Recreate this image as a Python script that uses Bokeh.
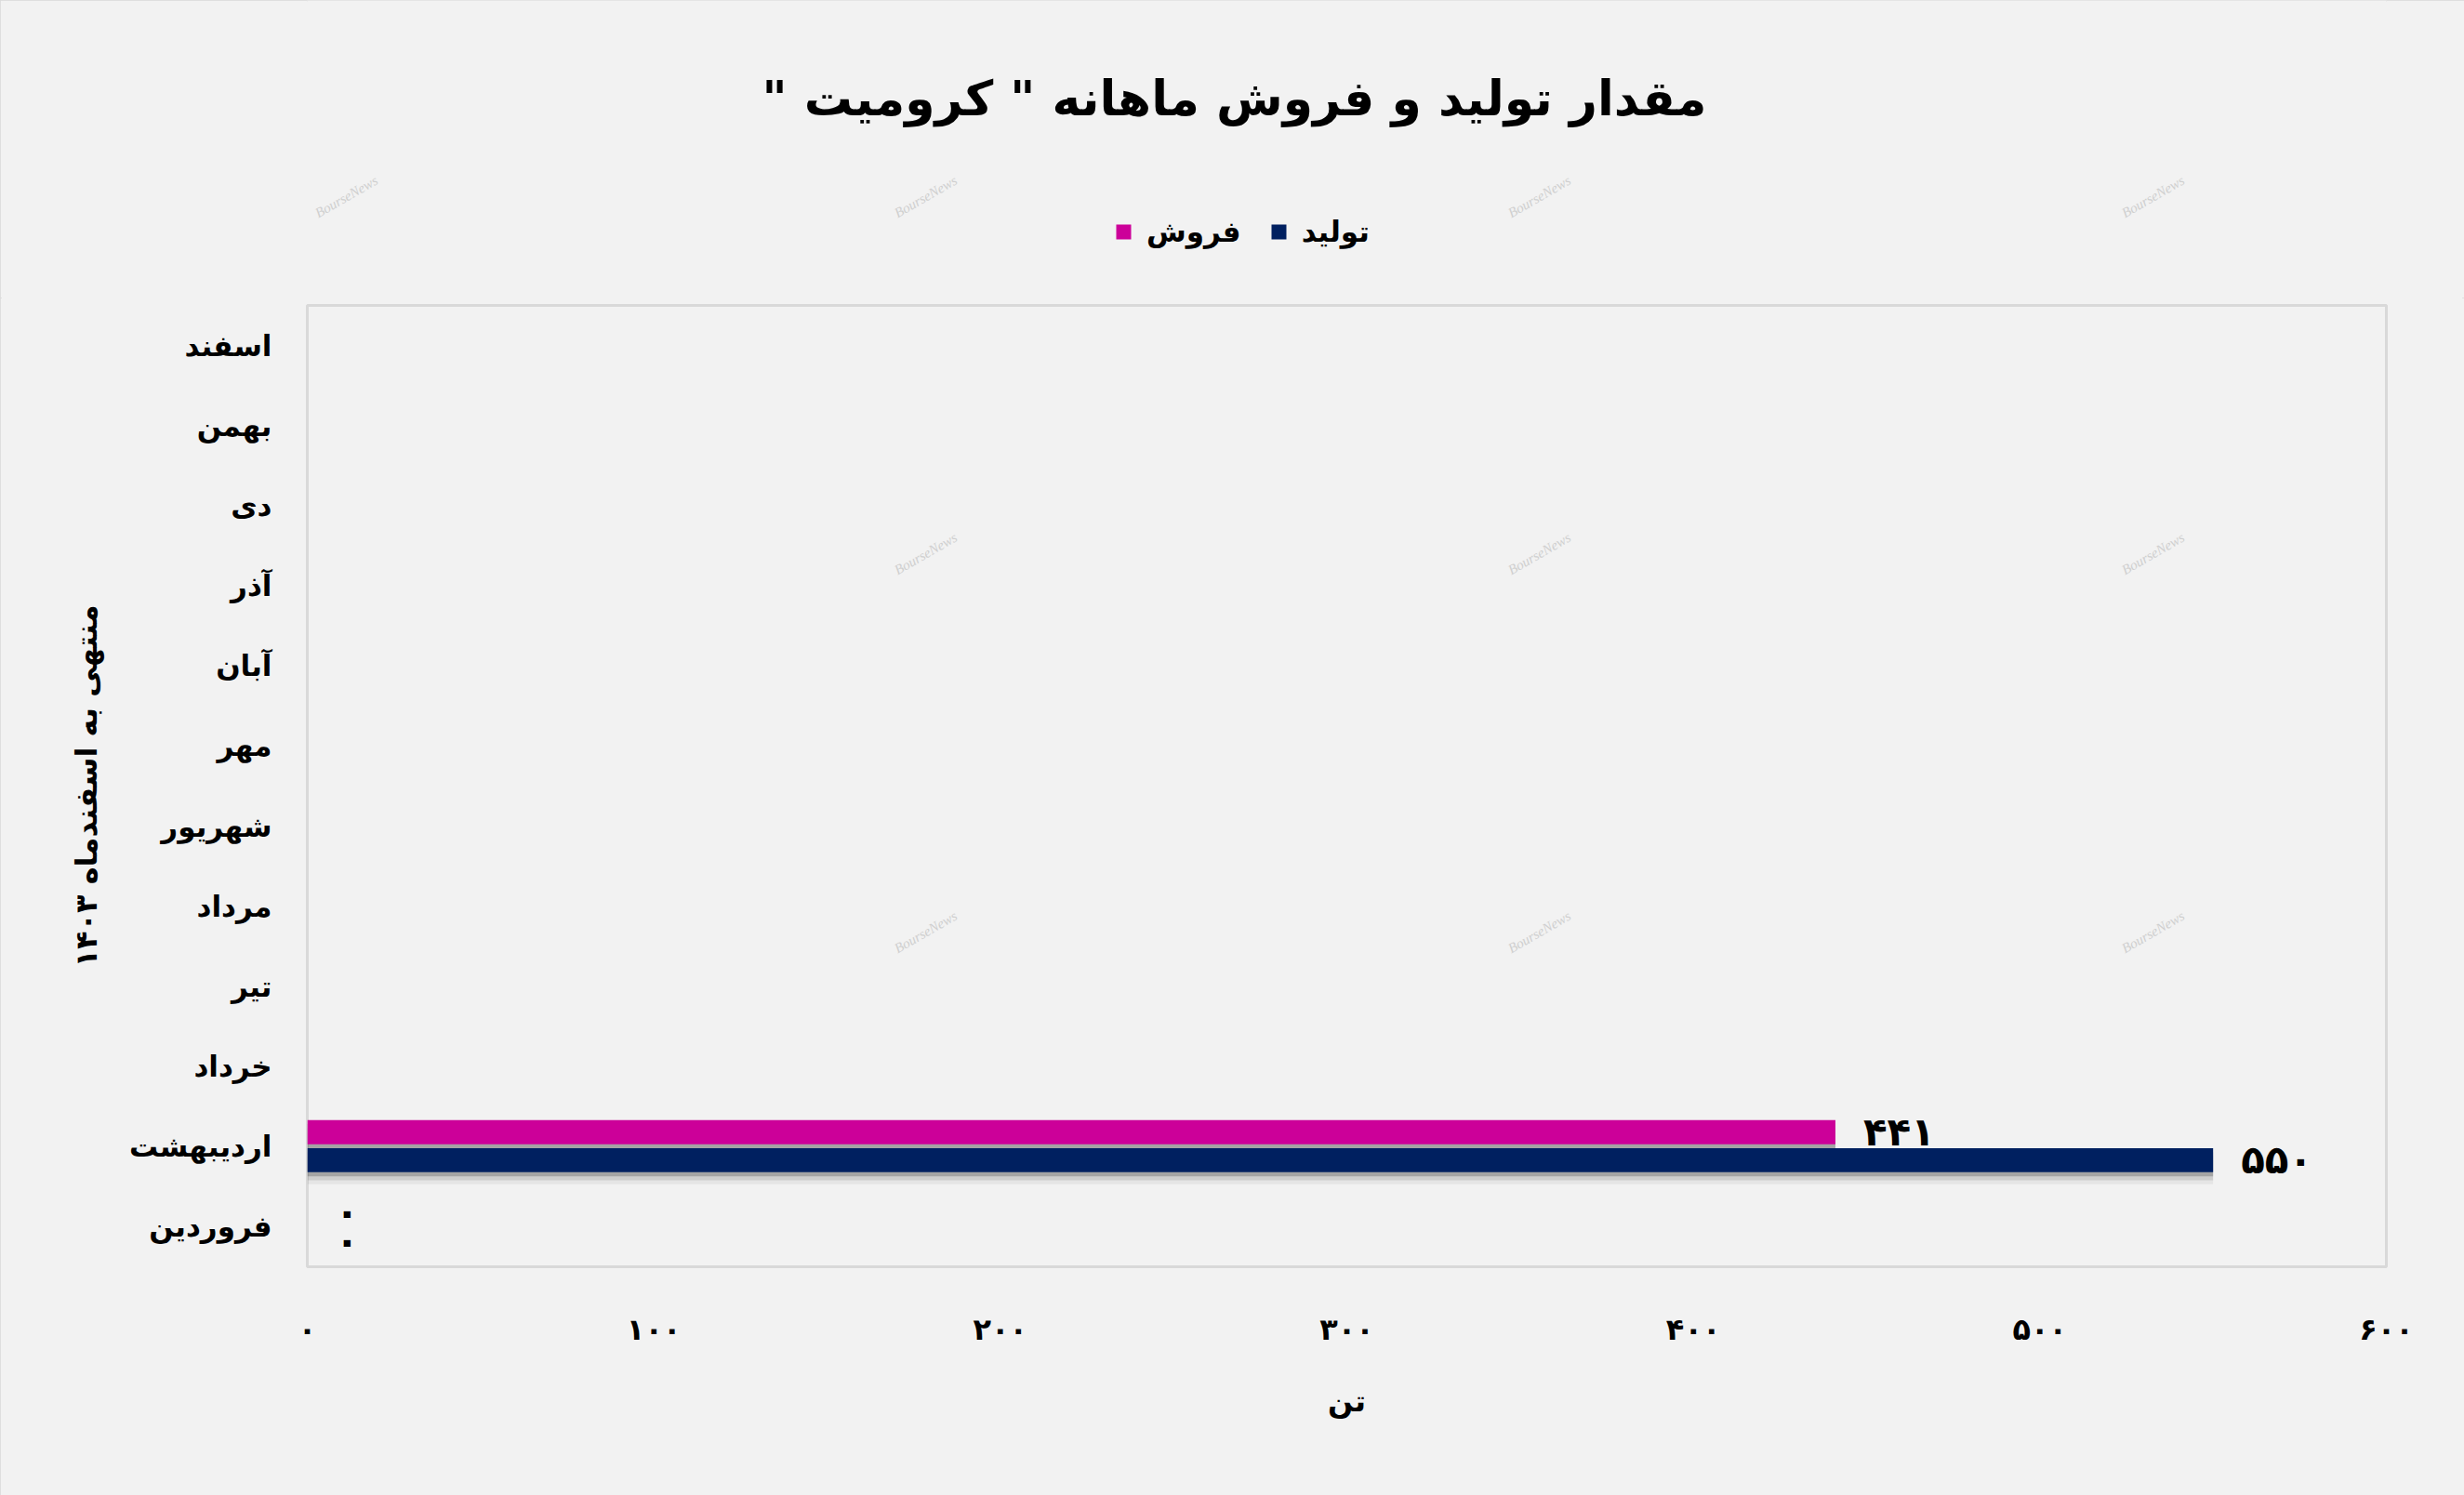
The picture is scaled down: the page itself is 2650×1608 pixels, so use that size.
from bokeh.plotting import figure
from bokeh.layouts import column
from bokeh.models import (Range1d, FactorRange, Legend, LegendItem, Label,
                          ColumnDataSource, FixedTicker)
from bokeh.transform import dodge
from bokeh.core.properties import value
from bokeh.embed import file_html
from bokeh.resources import INLINE

# ---------------- data ----------------
months = ["فروردین", "اردیبهشت", "خرداد", "تیر", "مرداد", "شهریور",
          "مهر", "آبان", "آذر", "دی", "بهمن", "اسفند"]
reported_months = ["فروردین", "اردیبهشت"]
production = [0, 550]   # تولید
sales = [0, 441]        # فروش
x_ticks = [0, 100, 200, 300, 400, 500, 600]
x_tick_labels = ["۰", "۱۰۰", "۲۰۰", "۳۰۰", "۴۰۰", "۵۰۰", "۶۰۰"]

title_text = "\u200fمقدار تولید و فروش ماهانه \" کرومیت \"\u200f"
y_title = "منتهی به اسفندماه ۱۴۰۳"
x_title = "تن"
legend_labels = ["فروش", "تولید"]
watermark = "BourseNews"

FA = "۰۱۲۳۴۵۶۷۸۹"
def to_fa(n):
    return "".join(FA[int(c)] for c in str(n))

src = ColumnDataSource(dict(
    month=reported_months,
    production=production,
    sales=sales,
    production_lbl=[to_fa(v) for v in production],
    sales_lbl=[to_fa(v) for v in sales],
))

FONT = "DejaVu Sans"
BG = "#f2f2f2"
PINK = "#cc0099"
NAVY = "#002060"
WM_COLOR = "#cfcfcf"

W, H = 2650, 1608
TOP_H = 320
ML, MR, MT, MB = 330, 84, 8, 246
H2 = H - TOP_H
FRAME_W, FRAME_H = W - ML - MR, H2 - MT - MB

# ---------------- header figure: title + legend ----------------
# its frame is aligned with the chart frame; data units = page pixels
top = figure(width=W, height=TOP_H, x_range=Range1d(ML, W - MR), y_range=Range1d(0, TOP_H),
             output_backend="svg", toolbar_location=None, title=None,
             x_axis_type=None, y_axis_type=None,
             background_fill_color=BG, border_fill_color=BG,
             min_border_left=ML, min_border_right=MR, min_border_top=0, min_border_bottom=0,
             outline_line_color=None)
top.xgrid.visible = False
top.ygrid.visible = False

top.add_layout(Label(x=1327, y=TOP_H - 105, text=title_text,
                     text_align="center", text_baseline="middle",
                     text_font=FONT, text_font_style="bold", text_font_size="52px",
                     text_color="black"))

# off-screen stand-ins so that the legend can draw its swatches
dummy_s = top.hbar(y=[-1000], left=[0], right=[1], height=1, fill_color=PINK, line_color=None)
dummy_p = top.hbar(y=[-1000], left=[0], right=[1], height=1, fill_color=NAVY, line_color=None)
legend = Legend(items=[LegendItem(label=legend_labels[0], renderers=[dummy_s]),
                       LegendItem(label=legend_labels[1], renderers=[dummy_p])],
                orientation="horizontal", location=(1198 - ML, TOP_H - 248 - 19),
                background_fill_alpha=0, border_line_color=None,
                label_text_font=FONT, label_text_font_style="bold",
                label_text_font_size="31px", label_text_color="black",
                glyph_width=20, glyph_height=20, spacing=30, label_standoff=15,
                margin=0, padding=0)
top.add_layout(legend)

for wx in [372, 995, 1655, 2315]:
    top.add_layout(Label(x=wx, y=TOP_H - 211, text=watermark, angle=0.52,
                         text_align="center", text_baseline="middle",
                         text_font="Liberation Serif", text_font_style="italic",
                         text_font_size="15px", text_color=WM_COLOR))

# ---------------- main chart ----------------
p = figure(width=W, height=H2,
           y_range=FactorRange(factors=months), x_range=Range1d(0, 600),
           output_backend="svg", toolbar_location=None, title=None,
           background_fill_color=BG, border_fill_color=BG,
           min_border_left=ML, min_border_right=MR,
           min_border_top=MT, min_border_bottom=MB)

DS, DP = 0.18, -0.17

# soft shadows under the bars
for off, a in [(-0.05, 0.2), (-0.1, 0.1), (-0.15, 0.05)]:
    p.hbar(y=dodge("month", DS + off, range=p.y_range), right="sales", left=0,
           height=0.3, source=src, fill_color="black", fill_alpha=a, line_color=None)
    p.hbar(y=dodge("month", DP + off, range=p.y_range), right="production", left=0,
           height=0.3, source=src, fill_color="black", fill_alpha=a, line_color=None)

p.hbar(y=dodge("month", DS, range=p.y_range), right="sales", left=0,
       height=0.3, source=src, fill_color=PINK, line_color=None)
p.hbar(y=dodge("month", DP, range=p.y_range), right="production", left=0,
       height=0.3, source=src, fill_color=NAVY, line_color=None)

for col, xcol, d in [("sales_lbl", "sales", DS), ("production_lbl", "production", DP)]:
    p.text(x=xcol, y=dodge("month", d, range=p.y_range), text=col, source=src,
           x_offset=30, text_align="left", text_baseline="middle",
           text_font=value(FONT), text_font_style="bold", text_font_size="42px",
           text_color="black")

# watermarks inside the plot area
unit = FRAME_H / len(months)
for py in [595, 1002]:
    for px in [995, 1655, 2315]:
        p.add_layout(Label(x=600 * (px - ML) / FRAME_W,
                           y=len(months) - (py - TOP_H - MT) / unit,
                           text=watermark, angle=0.52,
                           text_align="center", text_baseline="middle",
                           text_font="Liberation Serif", text_font_style="italic",
                           text_font_size="15px", text_color=WM_COLOR))

# axes
p.xgrid.visible = False
p.ygrid.visible = False
p.outline_line_color = "#d9d9d9"
p.outline_line_width = 3

p.xaxis.ticker = FixedTicker(ticks=x_ticks)
p.xaxis.major_label_overrides = dict(zip(x_ticks, x_tick_labels))
for ax in (p.xaxis, p.yaxis):
    ax.axis_line_color = None
    ax.major_tick_line_color = None
    ax.minor_tick_line_color = None
    ax.major_label_text_font = FONT
    ax.major_label_text_font_style = "bold"
    ax.major_label_text_font_size = "32px"
    ax.major_label_text_color = "black"
    ax.axis_label_text_font = FONT
    ax.axis_label_text_font_style = "bold"
    ax.axis_label_text_font_size = "32px"
    ax.axis_label_text_color = "black"

p.yaxis.major_label_text_font_size = "31px"
p.xaxis.major_label_standoff = 42
p.xaxis.axis_label = x_title
p.xaxis.axis_label_standoff = 36
p.yaxis.major_label_standoff = 32
p.yaxis.axis_label = y_title
p.yaxis.axis_label_standoff = 24

layout = column(top, p, spacing=0,
                styles={"background-color": BG,
                        "outline": "2px solid #d9d9d9", "outline-offset": "-2px"})
open("out.html", "w").write(file_html(layout, INLINE))
